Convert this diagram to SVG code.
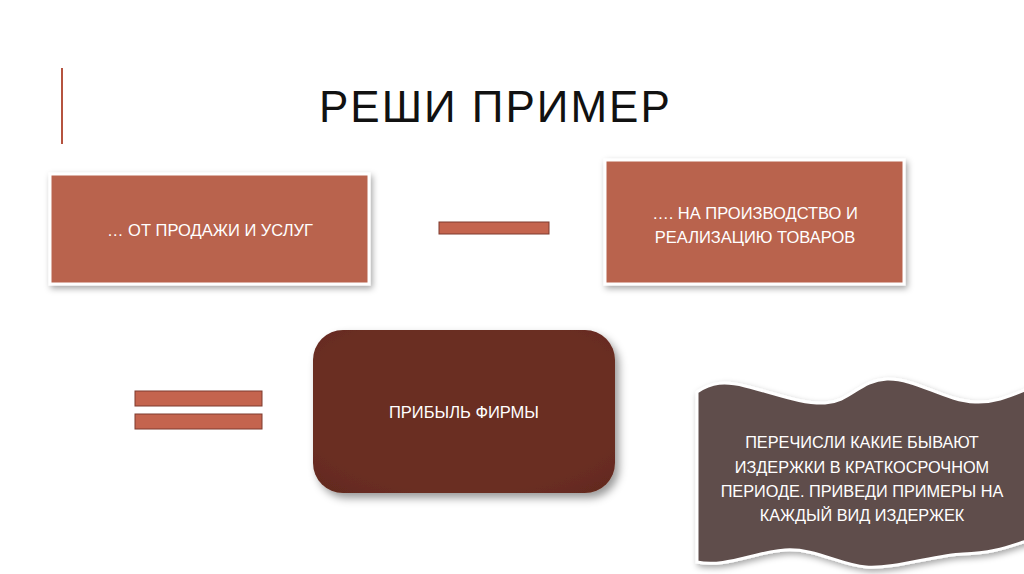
<svg xmlns="http://www.w3.org/2000/svg" width="1024" height="574" viewBox="0 0 1024 574">
<defs>
<filter id="sh" x="-10%" y="-10%" width="125%" height="130%">
<feDropShadow dx="2" dy="3" stdDeviation="3" flood-color="#000" flood-opacity="0.35"/>
</filter>
<filter id="sh2" x="-10%" y="-10%" width="125%" height="130%">
<feDropShadow dx="4" dy="5" stdDeviation="4" flood-color="#000" flood-opacity="0.4"/>
</filter>
<radialGradient id="rg" cx="50%" cy="45%" r="70%">
<stop offset="0.75" stop-color="#6b2e22"/>
<stop offset="1" stop-color="#632a1f"/>
</radialGradient>
<style>
.box{fill:#b9634d;stroke:#ffffff;stroke-width:3;filter:url(#sh)}
.bar{fill:#c4644e;stroke:#7e3b2e;stroke-width:1}
.t{font-family:"Liberation Sans","Noto Sans",sans-serif;fill:#ffffff;text-anchor:middle;font-size:16.5px}
.w{font-size:16.3px}
.title{font-family:"Liberation Sans","Noto Sans",sans-serif;fill:#111111;font-size:44px;letter-spacing:2px}
</style>
</defs>
<rect width="1024" height="574" fill="#ffffff"/>
<line x1="62" y1="68" x2="62" y2="144" stroke="#b5533f" stroke-width="2"/>
<text class="title" x="319" y="122">РЕШИ ПРИМЕР</text>
<g id="node-sales">
<rect class="box" x="50" y="174" width="319" height="110"/>
<text class="t" x="210" y="236">… ОТ ПРОДАЖИ И УСЛУГ</text>
</g>
<g id="node-costs">
<rect class="box" x="605" y="160" width="299" height="124"/>
<text class="t" x="755" y="219">…. НА ПРОИЗВОДСТВО И</text>
<text class="t" x="755" y="243">РЕАЛИЗАЦИЮ ТОВАРОВ</text>
</g>
<g id="connectors">
<rect class="bar" x="439" y="222" width="110" height="12"/>
<rect class="bar" x="135" y="391" width="127" height="15"/>
<rect class="bar" x="135" y="414" width="127" height="15"/>
</g>
<g id="node-profit">
<rect x="313" y="330" width="302" height="163" rx="30" fill="url(#rg)" filter="url(#sh2)"/>
<text class="t" x="464" y="418">ПРИБЫЛЬ ФИРМЫ</text>
</g>
<g id="node-task">
<path d="M697,392 C712,382 725,381 745,386 C775,393 800,404 825,403 C850,402 860,380 887,379 C915,378 945,401 975,402 C995,403 1010,396 1030,388 L1030,540 C1010,546 995,553 963,554 C935,555 895,569 866,567 C840,565 815,548 785,550 C755,552 725,568 697,562 Z" fill="#5f4d4b" stroke="#ffffff" stroke-width="3" filter="url(#sh)"/>
<text class="t w" x="862" y="448">ПЕРЕЧИСЛИ КАКИЕ БЫВАЮТ</text>
<text class="t w" x="862" y="473">ИЗДЕРЖКИ В КРАТКОСРОЧНОМ</text>
<text class="t w" x="862" y="497">ПЕРИОДЕ. ПРИВЕДИ ПРИМЕРЫ НА</text>
<text class="t w" x="862" y="521">КАЖДЫЙ ВИД ИЗДЕРЖЕК</text>
</g>
</svg>
